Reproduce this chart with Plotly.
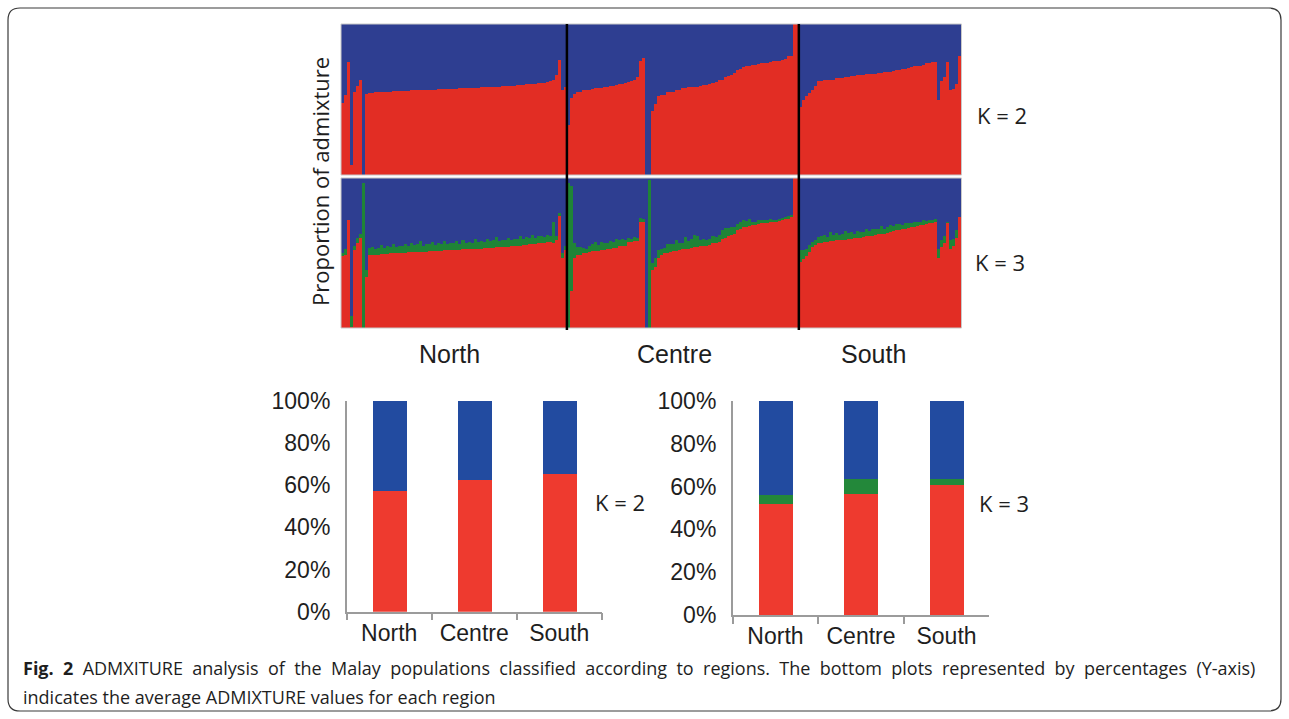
import plotly.graph_objects as go

# ---------------- data ----------------
regions = ["North", "Centre", "South"]

# per-individual red (ancestry 1) proportion, K = 2
north_k2_red = [0.48, 0.53, 0.75, 0.066, 0.55, 0.59, 0.63, 0.0, 0.536, 0.54,
                0.545, 0.55, 0.55, 0.552, 0.552, 0.553, 0.553, 0.555, 0.555, 0.556,
                0.557, 0.558, 0.559, 0.56, 0.56, 0.561, 0.562, 0.563, 0.564, 0.565,
                0.565, 0.566, 0.567, 0.568, 0.569, 0.57, 0.57, 0.571, 0.572, 0.573,
                0.574, 0.575, 0.576, 0.577, 0.578, 0.579, 0.58, 0.581, 0.582, 0.583,
                0.584, 0.585, 0.586, 0.587, 0.588, 0.589, 0.59, 0.592, 0.594, 0.596,
                0.598, 0.60, 0.60, 0.602, 0.605, 0.607, 0.61, 0.612, 0.618, 0.625,
                0.632, 0.66, 0.76, 0.56, 0.58]
centre_k2_red = [0.33, 0.51, 0.535, 0.55, 0.55, 0.56, 0.56, 0.565, 0.572, 0.575,
                 0.575, 0.578, 0.585, 0.586, 0.588, 0.592, 0.593, 0.60, 0.60, 0.612,
                 0.615, 0.625, 0.628, 0.646, 0.752, 0.774, 0.0, 0.0, 0.425, 0.47,
                 0.52, 0.53, 0.53, 0.55, 0.55, 0.55, 0.562, 0.562, 0.573, 0.573,
                 0.58, 0.586, 0.586, 0.586, 0.588, 0.595, 0.597, 0.60, 0.612, 0.615,
                 0.628, 0.632, 0.65, 0.655, 0.66, 0.675, 0.695, 0.70, 0.715, 0.72,
                 0.725, 0.73, 0.73, 0.732, 0.74, 0.74, 0.742, 0.75, 0.752, 0.752,
                 0.755, 0.763, 0.765, 0.785, 0.79, 1.0, 1.0]
south_k2_red = [0.45, 0.50, 0.52, 0.54, 0.564, 0.59, 0.62, 0.625, 0.63, 0.63,
                0.63, 0.632, 0.64, 0.64, 0.645, 0.65, 0.652, 0.655, 0.657, 0.66,
                0.662, 0.665, 0.667, 0.668, 0.67, 0.672, 0.675, 0.677, 0.68, 0.682,
                0.685, 0.69, 0.695, 0.698, 0.70, 0.705, 0.71, 0.715, 0.72, 0.722,
                0.725, 0.728, 0.74, 0.745, 0.75, 0.75, 0.50, 0.62, 0.65, 0.75,
                0.56, 0.57, 0.60, 0.79]

# per-individual red and green proportions, K = 3
north_k3_red = [0.48, 0.49, 0.72, 0.01, 0.52, 0.57, 0.60, 0.0, 0.34, 0.487,
                0.49, 0.49, 0.49, 0.492, 0.495, 0.495, 0.497, 0.50, 0.50, 0.50,
                0.502, 0.503, 0.505, 0.505, 0.506, 0.507, 0.508, 0.51, 0.51, 0.512,
                0.513, 0.514, 0.515, 0.516, 0.517, 0.518, 0.52, 0.52, 0.522, 0.523,
                0.524, 0.525, 0.526, 0.527, 0.528, 0.53, 0.53, 0.532, 0.533, 0.534,
                0.535, 0.537, 0.538, 0.54, 0.541, 0.542, 0.544, 0.546, 0.548, 0.55,
                0.552, 0.555, 0.557, 0.56, 0.562, 0.565, 0.568, 0.57, 0.573, 0.576,
                0.57, 0.585, 0.75, 0.47, 0.52]
north_k3_green = [0.02, 0.04, 0.0, 0.07, 0.03, 0.03, 0.03, 0.97, 0.05, 0.045,
                  0.05, 0.04, 0.045, 0.06, 0.04, 0.05, 0.045, 0.06, 0.04, 0.05,
                  0.045, 0.055, 0.04, 0.06, 0.045, 0.05, 0.07, 0.04, 0.05, 0.045,
                  0.06, 0.04, 0.05, 0.045, 0.065, 0.04, 0.05, 0.045, 0.055, 0.04,
                  0.06, 0.045, 0.05, 0.04, 0.065, 0.045, 0.05, 0.04, 0.06, 0.045,
                  0.05, 0.07, 0.04, 0.05, 0.045, 0.06, 0.04, 0.05, 0.045, 0.065,
                  0.04, 0.05, 0.045, 0.06, 0.04, 0.05, 0.045, 0.04, 0.05, 0.04,
                  0.14, 0.03, 0.02, 0.03, 0.03]
centre_k3_red = [0.0, 0.25, 0.47, 0.487, 0.487, 0.50, 0.50, 0.505, 0.512, 0.516,
                 0.516, 0.52, 0.522, 0.53, 0.53, 0.532, 0.535, 0.545, 0.547, 0.55,
                 0.572, 0.576, 0.578, 0.58, 0.71, 0.71, 0.0, 0.0, 0.386, 0.41,
                 0.464, 0.49, 0.498, 0.50, 0.51, 0.513, 0.515, 0.518, 0.525, 0.527,
                 0.53, 0.532, 0.538, 0.54, 0.545, 0.547, 0.55, 0.555, 0.565, 0.569,
                 0.575, 0.595, 0.60, 0.615, 0.62, 0.63, 0.655, 0.66, 0.672, 0.676,
                 0.68, 0.685, 0.69, 0.692, 0.70, 0.70, 0.703, 0.705, 0.708, 0.71,
                 0.715, 0.725, 0.73, 0.732, 0.74, 1.0, 1.0]
centre_k3_green = [0.97, 0.70, 0.094, 0.056, 0.05, 0.035, 0.03, 0.04, 0.05, 0.06,
                   0.04, 0.055, 0.045, 0.04, 0.05, 0.04, 0.06, 0.04, 0.045, 0.04,
                   0.025, 0.02, 0.03, 0.02, 0.022, 0.02, 0.0, 0.99, 0.045, 0.056,
                   0.056, 0.035, 0.033, 0.06, 0.05, 0.045, 0.07, 0.05, 0.045, 0.08,
                   0.05, 0.06, 0.08, 0.075, 0.04, 0.045, 0.035, 0.04, 0.05, 0.04,
                   0.045, 0.056, 0.07, 0.05, 0.056, 0.045, 0.04, 0.045, 0.05, 0.04,
                   0.045, 0.02, 0.018, 0.025, 0.018, 0.02, 0.018, 0.02, 0.015, 0.011,
                   0.012, 0.011, 0.01, 0.012, 0.011, 0.0, 0.0]
south_k3_red = [0.44, 0.457, 0.48, 0.51, 0.538, 0.553, 0.565, 0.567, 0.576, 0.576,
                0.578, 0.58, 0.585, 0.587, 0.588, 0.59, 0.592, 0.596, 0.598, 0.60,
                0.602, 0.608, 0.612, 0.614, 0.616, 0.62, 0.624, 0.627, 0.63, 0.635,
                0.642, 0.648, 0.652, 0.656, 0.66, 0.663, 0.668, 0.672, 0.675, 0.68,
                0.685, 0.69, 0.694, 0.698, 0.70, 0.705, 0.47, 0.54, 0.57, 0.70,
                0.53, 0.55, 0.60, 0.74]
south_k3_green = [0.078, 0.06, 0.05, 0.045, 0.035, 0.035, 0.045, 0.045, 0.045, 0.03,
                  0.06, 0.04, 0.05, 0.035, 0.04, 0.055, 0.04, 0.045, 0.03, 0.05,
                  0.04, 0.035, 0.05, 0.03, 0.045, 0.04, 0.035, 0.05, 0.03, 0.04,
                  0.045, 0.03, 0.04, 0.035, 0.03, 0.04, 0.03, 0.025, 0.035, 0.03,
                  0.025, 0.03, 0.02, 0.025, 0.02, 0.02, 0.06, 0.045, 0.045, 0.01,
                  0.06, 0.045, 0.055, 0.0]

# regional averages (%)
avg_k2_red = [57.5, 62.7, 65.6]
avg_k3_red = [51.9, 56.5, 60.6]
avg_k3_green = [4.2, 6.9, 2.8]

y_ticks = [0, 20, 40, 60, 80, 100]
y_tick_text = ["0%", "20%", "40%", "60%", "80%", "100%"]

# ---------------- styles ----------------
W, H = 1289, 719
RED_T, BLUE_T, GREEN_T = "#E22D24", "#2E3E91", "#1F8437"
RED_B, BLUE_B, GREEN_B = "#EE3A2F", "#224BA0", "#23883A"
AX_GRAY = "#9b9b9b"
TXT = "#1e1e1e"


def px(x):
    return x / W


def py(y):
    return 1 - y / H


k2_red = north_k2_red + centre_k2_red + south_k2_red
k3_red = north_k3_red + centre_k3_red + south_k3_red
k3_green = north_k3_green + centre_k3_green + south_k3_green
k2_blue = [max(0.0, 1 - r) for r in k2_red]
k3_blue = [max(0.0, 1 - r - g) for r, g in zip(k3_red, k3_green)]
n_total = len(k2_red)
idx = list(range(n_total))
n_north, n_centre = len(north_k2_red), len(centre_k2_red)

fig = go.Figure()

bar_kw = dict(width=1.0, marker_line_width=0, hoverinfo="skip")
fig.add_trace(go.Bar(x=idx, y=k2_red, marker_color=RED_T, xaxis="x", yaxis="y", **bar_kw))
fig.add_trace(go.Bar(x=idx, y=k2_blue, marker_color=BLUE_T, xaxis="x", yaxis="y", **bar_kw))
fig.add_trace(go.Bar(x=idx, y=k3_red, marker_color=RED_T, xaxis="x2", yaxis="y2", **bar_kw))
fig.add_trace(go.Bar(x=idx, y=k3_green, marker_color=GREEN_T, xaxis="x2", yaxis="y2", **bar_kw))
fig.add_trace(go.Bar(x=idx, y=k3_blue, marker_color=BLUE_T, xaxis="x2", yaxis="y2", **bar_kw))

avg_k2_blue = [100 - r for r in avg_k2_red]
avg_k3_blue = [100 - r - g for r, g in zip(avg_k3_red, avg_k3_green)]
bkw = dict(width=0.4, marker_line_width=0, hoverinfo="skip")
fig.add_trace(go.Bar(x=regions, y=avg_k2_red, marker_color=RED_B, xaxis="x3", yaxis="y3", **bkw))
fig.add_trace(go.Bar(x=regions, y=avg_k2_blue, marker_color=BLUE_B, xaxis="x3", yaxis="y3", **bkw))
fig.add_trace(go.Bar(x=regions, y=avg_k3_red, marker_color=RED_B, xaxis="x4", yaxis="y4", **bkw))
fig.add_trace(go.Bar(x=regions, y=avg_k3_green, marker_color=GREEN_B, xaxis="x4", yaxis="y4", **bkw))
fig.add_trace(go.Bar(x=regions, y=avg_k3_blue, marker_color=BLUE_B, xaxis="x4", yaxis="y4", **bkw))

hidden = dict(showticklabels=False, showgrid=False, zeroline=False, ticks="", showline=False,
              fixedrange=True, automargin=False)
tick_font = dict(family="Liberation Sans, Arial, sans-serif", size=23, color=TXT)

xcat = dict(type="category", categoryarray=regions, range=[-0.5, 2.5], tickson="boundaries",
            ticks="outside", ticklen=7, tickwidth=1.5, tickcolor=AX_GRAY, showline=True,
            linecolor=AX_GRAY, linewidth=1.5, showgrid=False, tickfont=tick_font, automargin=False)
ypct = dict(range=[0, 100], tickmode="array", tickvals=y_ticks, ticktext=y_tick_text,
            showline=True, linecolor=AX_GRAY, linewidth=1.5, showgrid=False, zeroline=False,
            ticks="", tickfont=tick_font, ticklabelstandoff=10, automargin=False)

fig.update_layout(
    template="none",
    width=W, height=H, margin=dict(l=0, r=0, t=0, b=0, pad=0, autoexpand=False),
    paper_bgcolor="white", plot_bgcolor="white",
    barmode="stack", bargap=0, showlegend=False,
    xaxis=dict(domain=[px(341), px(961.5)], range=[-0.5, n_total - 0.5], anchor="y", **hidden),
    yaxis=dict(domain=[py(175), py(24)], range=[0, 1], anchor="x", **hidden),
    xaxis2=dict(domain=[px(341), px(961.5)], range=[-0.5, n_total - 0.5], anchor="y2", **hidden),
    yaxis2=dict(domain=[py(328), py(178)], range=[0, 1], anchor="x2", **hidden),
    xaxis3=dict(domain=[px(346.7), px(601.7)], anchor="y3", **xcat),
    yaxis3=dict(domain=[py(611.7), py(400.7)], anchor="x3", **ypct),
    xaxis4=dict(domain=[px(732.7), px(989.3)], anchor="y4", **xcat),
    yaxis4=dict(domain=[py(615), py(401)], anchor="x4", **ypct),
)

shapes = []
# light borders round the top panels
for xr, yr in (("x domain", "y domain"), ("x2 domain", "y2 domain")):
    shapes.append(dict(type="rect", xref=xr, yref=yr, x0=0, x1=1, y0=0, y1=1,
                       line=dict(color="#c9c9c9", width=1), layer="above"))
# region separators
for b in (n_north - 0.5, n_north + n_centre - 0.5):
    shapes.append(dict(type="line", xref="x", yref="paper", x0=b, x1=b,
                       y0=py(330), y1=py(24), line=dict(color="black", width=2.5), layer="above"))
# rounded outer frame
x0, x1, y0, y1, r = 8, 1281, 8, 711, 12
pts = [("M", x0 + r, y0), ("L", x1 - r, y0), ("Q", x1, y0, x1, y0 + r), ("L", x1, y1 - r),
       ("Q", x1, y1, x1 - r, y1), ("L", x0 + r, y1), ("Q", x0, y1, x0, y1 - r),
       ("L", x0, y0 + r), ("Q", x0, y0, x0 + r, y0)]
path = ""
for p in pts:
    cmd = p[0]
    coords = p[1:]
    seg = []
    for i in range(0, len(coords), 2):
        seg.append(f"{px(coords[i]):.5f},{py(coords[i + 1]):.5f}")
    path += cmd + " " + " ".join(seg) + " "
path += "Z"
shapes.append(dict(type="path", xref="paper", yref="paper", path=path,
                   line=dict(color="#3a3a3a", width=1.2), layer="above"))
fig.update_layout(shapes=shapes)

ann = []
sans = "Open Sans, Noto Sans, sans-serif"
helv = "Liberation Sans, Arial, sans-serif"


def add_text(text, x, y, size, family, xanchor="center", angle=0):
    ann.append(dict(text=text, x=px(x), y=py(y), xref="paper", yref="paper", showarrow=False,
                    xanchor=xanchor, yanchor="middle", textangle=angle,
                    font=dict(family=family, size=size, color=TXT)))


add_text("Proportion of admixture", 320, 182, 22, sans, angle=-90)
add_text("K = 2", 1002, 115, 22, sans)
add_text("K = 3", 1000, 262, 22, sans)
add_text(regions[0], 449, 354, 25, helv)
add_text(regions[1], 674, 354, 25, helv)
add_text(regions[2], 873, 354, 25, helv)
add_text("K = 2", 620, 502, 22, sans)
add_text("K = 3", 1004, 503, 22, sans)
sp = "\u00a0 "
line1 = ("<b>Fig." + sp + "2</b>" + sp + sp.join(
    "ADMXITURE analysis of the Malay populations classified according to regions. "
    "The bottom plots represented by percentages (Y-axis)".split(" ")))
add_text(line1, 21, 668, 18, sans, xanchor="left")
add_text("indicates the average ADMIXTURE values for each region", 21, 697, 18, sans, xanchor="left")
fig.update_layout(annotations=ann)

fig.write_html("out.html", config={"displayModeBar": False},
               post_script="document.body.style.margin='0px';")
